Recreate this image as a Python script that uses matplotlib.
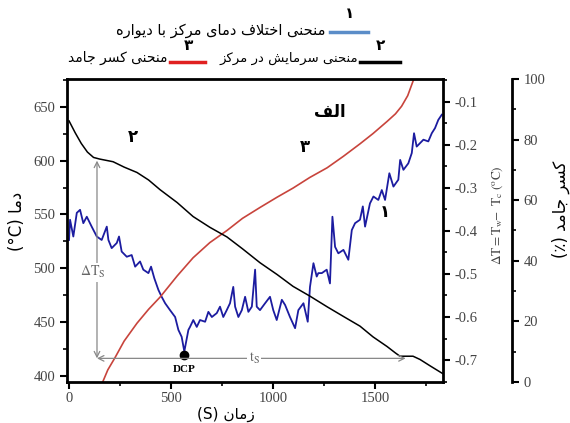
import matplotlib.pyplot as plt
from matplotlib.lines import Line2D
from matplotlib.ticker import MultipleLocator
from matplotlib.transforms import blended_transform_factory

plt.rcParams['font.family'] = ['Liberation Serif', 'DejaVu Sans']
plt.rcParams['mathtext.fontset'] = 'stix'

# --- data ---
# cooling curve at the centre (left axis, degC)
t_cool = [0, 30, 60, 90, 120, 150, 216, 270, 333, 390, 446, 530, 608, 690, 774, 850,
          936, 1020, 1098, 1180, 1265, 1345, 1426, 1490, 1559, 1600, 1622, 1686, 1720, 1770, 1830]
T_cool = [637, 626, 616, 608, 603, 601.5, 599, 594, 589, 582, 573, 561, 548, 538, 529, 518,
          505, 494, 483, 474, 464, 455, 446, 436, 427, 421, 418, 418, 415, 409, 402]

# wall - centre temperature difference (right axis)
t_dT = [0, 5, 21, 38, 54, 70, 87, 111, 136, 160, 185, 193, 209, 234, 245, 258, 283, 307,
        324, 348, 364, 389, 402, 418, 438, 454, 471, 495, 520, 536, 552, 565, 585, 593,
        609, 626, 642, 667, 683, 700, 724, 740, 756, 773, 789, 805, 814, 830, 847, 863,
        879, 896, 912, 920, 936, 961, 985, 1001, 1018, 1043, 1059, 1083, 1108, 1124, 1149,
        1170, 1181, 1198, 1214, 1222, 1239, 1263, 1279, 1291, 1304, 1320, 1345, 1369, 1386,
        1402, 1426, 1440, 1451, 1475, 1492, 1516, 1533, 1549, 1570, 1590, 1614, 1623, 1639,
        1663, 1680, 1691, 1704, 1737, 1761, 1778, 1794, 1810, 1827]
dT = [-0.421, -0.374, -0.413, -0.358, -0.351, -0.382, -0.367, -0.390, -0.413, -0.421,
      -0.390, -0.421, -0.440, -0.428, -0.413, -0.448, -0.460, -0.456, -0.483, -0.471,
      -0.490, -0.498, -0.483, -0.510, -0.537, -0.553, -0.568, -0.584, -0.600, -0.630,
      -0.646, -0.680, -0.630, -0.623, -0.607, -0.623, -0.607, -0.611, -0.588, -0.600,
      -0.591, -0.576, -0.600, -0.584, -0.568, -0.530, -0.576, -0.600, -0.584, -0.553,
      -0.588, -0.576, -0.490, -0.576, -0.584, -0.568, -0.553, -0.584, -0.607, -0.560,
      -0.572, -0.600, -0.626, -0.584, -0.568, -0.611, -0.530, -0.475, -0.506, -0.498,
      -0.498, -0.490, -0.522, -0.367, -0.437, -0.452, -0.444, -0.467, -0.398, -0.382,
      -0.374, -0.343, -0.390, -0.336, -0.320, -0.328, -0.305, -0.328, -0.266, -0.297,
      -0.281, -0.235, -0.258, -0.243, -0.219, -0.173, -0.204, -0.188, -0.192, -0.173,
      -0.161, -0.142, -0.130]

# solid fraction (third axis, %)
t_frac = [165, 190, 225, 270, 333, 390, 446, 530, 608, 690, 774, 850, 936, 1020, 1098,
          1180, 1265, 1345, 1426, 1490, 1559, 1600, 1630, 1660, 1690]
frac = [0, 4, 8, 13.5, 19.4, 24, 28, 35, 41, 46, 50, 54, 57.6, 61, 64,
        67.5, 70.7, 74.5, 78.6, 82, 86, 88.5, 91, 94.5, 100]

dcp_t, dcp_dT = 565, -0.688
ts_start, ts_end, ts_T = 137, 1650, 416
dTs_top = 600

T_ticks = [400, 450, 500, 550, 600, 650]
dT_ticks = [-0.7, -0.6, -0.5, -0.4, -0.3, -0.2, -0.1]
frac_ticks = [0, 20, 40, 60, 80, 100]
t_ticks = [0, 500, 1000, 1500]

# --- persian text shaping (no reshaper library in the sandbox) ---
BASE = {'ا': (0xFE8D, 2), 'آ': (0xFE81, 2), 'ب': (0xFE8F, 4), 'پ': (0xFB56, 4),
        'ت': (0xFE95, 4), 'ج': (0xFE9D, 4), 'ح': (0xFEA1, 4), 'خ': (0xFEA5, 4),
        'د': (0xFEA9, 2), 'ر': (0xFEAD, 2), 'ز': (0xFEAF, 2), 'س': (0xFEB1, 4),
        'ش': (0xFEB5, 4), 'ف': (0xFED1, 4), 'ک': (0xFB8E, 4), 'ل': (0xFEDD, 4),
        'م': (0xFEE1, 4), 'ن': (0xFEE5, 4), 'و': (0xFEED, 2), 'ه': (0xFEE9, 4),
        'ی': (0xFBFC, 4)}


def fa(text):
    out = []
    i = 0
    while i < len(text):
        c = text[i]
        if c not in BASE:
            out.append(c)
            i += 1
            continue
        prev = text[i - 1] if i > 0 else ''
        joins_prev = prev in BASE and BASE[prev][1] == 4
        nxt = text[i + 1] if i + 1 < len(text) else ''
        if c == 'ل' and nxt == 'ا':
            out.append('\uFEFC' if joins_prev else '\uFEFB')
            i += 2
            continue
        joins_next = BASE[c][1] == 4 and nxt in BASE
        form = 3 if (joins_prev and joins_next) else 1 if joins_prev else 2 if joins_next else 0
        out.append(chr(BASE[c][0] + form))
        i += 1
    return ''.join(out[::-1])


PERS = ['DejaVu Sans']

W, H = 570, 423
fig = plt.figure(figsize=(5.7, 4.23), dpi=100)
ax = fig.add_axes([67 / W, 41 / H, 376 / W, 303 / H])
ax2 = ax.twinx()
ax3 = ax.twinx()
ax.set_zorder(3)
ax.patch.set_visible(False)

tick_col = '#444444'

# curves
ax.plot(t_cool, T_cool, color='black', lw=1.1)
ax2.plot(t_dT, dT, color='#1c1ca0', lw=1.3)
ax2.plot([dcp_t], [dcp_dT], 'o', color='black', ms=6)
ax3.plot(t_frac, frac, color='#c8443c', lw=1.2)

ax.set_xlim(-10, 1833)
ax.set_ylim(394, 676)
ax2.set_ylim(-0.751, -0.047)
ax3.set_ylim(0, 100)

ax.set_xticks(t_ticks)
ax.tick_params(axis='x', labelbottom=False)
ax.xaxis.set_minor_locator(MultipleLocator(250))
ax.set_yticks(T_ticks)
ax.yaxis.set_minor_locator(MultipleLocator(25))
ax2.set_yticks(dT_ticks)
ax2.set_yticklabels(['%g' % v for v in dT_ticks])
ax2.yaxis.set_minor_locator(MultipleLocator(0.05))
ax3.set_yticks(frac_ticks)
ax3.yaxis.set_minor_locator(MultipleLocator(10))

for a in (ax, ax2, ax3):
    a.tick_params(which='major', length=5, width=1.5, direction='out',
                  labelsize=10.5, labelcolor=tick_col)
    a.tick_params(which='minor', length=3, width=1.2, direction='out')
    for sp in a.spines.values():
        sp.set_linewidth(2)

ax.spines['right'].set_visible(False)
ax2.spines['left'].set_visible(False)
ax2.spines['top'].set_visible(False)
ax2.spines['bottom'].set_visible(False)
for s in ('left', 'top', 'bottom'):
    ax3.spines[s].set_visible(False)
ax3.spines['right'].set_position(('axes', 1.183))

# annotations
arr = dict(arrowstyle='<->', color='#888888', lw=0.9, shrinkA=0, shrinkB=0)
ax.annotate('', xy=(ts_start, dTs_top), xytext=(ts_start, ts_T), arrowprops=arr)
ax.annotate('', xy=(ts_start, ts_T), xytext=(ts_end, ts_T), arrowprops=arr)
ax.text(118, 496, r'$\Delta\mathrm{T_S}$', color='#666666', fontsize=10, ha='center', va='center',
        bbox=dict(facecolor='white', edgecolor='none', pad=1))
ax.text(907, ts_T, r'$\mathrm{t_S}$', color='#666666', fontsize=10, ha='center', va='center',
        bbox=dict(facecolor='white', edgecolor='none', pad=1))
ax2.text(dcp_t, -0.722, 'DCP', fontweight='bold', fontsize=8, ha='center', va='center')

ax.text(1279, 645, fa('الف'), family=PERS, fontsize=12, fontweight='bold', ha='center', va='center')
ax.text(314, 622, '۲', family=PERS, fontsize=12, fontweight='bold', ha='center', va='center')
ax.text(1157, 613, '۳', family=PERS, fontsize=12, fontweight='bold', ha='center', va='center')
ax.text(1549, 552, '۱', family=PERS, fontsize=12, fontweight='bold', ha='center', va='center')

# axis labels
ax.set_ylabel('(°C) ' + fa('دما'), family=PERS, fontsize=12)
ax.yaxis.set_label_coords(-0.11, 0.53)
ax2.set_ylabel(r'$\Delta\mathrm{T = T_w\!\!-\ T_c\ (^oC)}$', fontsize=9.5, color='#444444')
ax2.yaxis.set_label_coords(1.125, 0.55)
ax3.set_ylabel('(٪) ' + fa('کسر جامد'), family=PERS, fontsize=12, rotation=90)
ax3.yaxis.set_label_coords(1.29, 0.57)
fig.text(226 / W, 1 - 414 / H, '(S) ' + fa('زمان'), family=PERS, fontsize=11,
         ha='center', va='center', zorder=50)


# legend at the top
def leg_line(x0, x1, y, color):
    fig.add_artist(Line2D([x0 / W, x1 / W], [1 - y / H, 1 - y / H], color=color, lw=2.5,
                          transform=fig.transFigure))


leg_line(330, 368, 32, '#5b8dc8')
fig.text(350 / W, 1 - 14 / H, '۱', family=PERS, fontsize=11, fontweight='bold',
         ha='center', va='center')
fig.text(326 / W, 1 - 31 / H, fa('منحنی اختلاف دمای مرکز با دیواره'), family=PERS,
         fontsize=10.5, ha='right', va='center')
leg_line(360, 400, 62, 'black')
fig.text(380 / W, 1 - 46 / H, '۲', family=PERS, fontsize=11, fontweight='bold',
         ha='center', va='center')
fig.text(358 / W, 1 - 58 / H, fa('منحنی سرمایش در مرکز'), family=PERS, fontsize=9.5,
         ha='right', va='center')
leg_line(170, 205, 62, '#e02020')
fig.text(188 / W, 1 - 46 / H, '۳', family=PERS, fontsize=11, fontweight='bold',
         ha='center', va='center')
fig.text(168 / W, 1 - 58 / H, fa('منحنی کسر جامد'), family=PERS, fontsize=10,
         ha='right', va='center')

# x tick labels, drawn last at the tick positions with their own single font
xlab_tr = blended_transform_factory(ax.transData, fig.transFigure)
for v in t_ticks:
    fig.text(v, 1 - 392 / H, str(v), transform=xlab_tr, ha='center', va='top',
             family='Liberation Serif', fontsize=10.5, color=tick_col, zorder=100)

fig.savefig('out.png', dpi=100)
